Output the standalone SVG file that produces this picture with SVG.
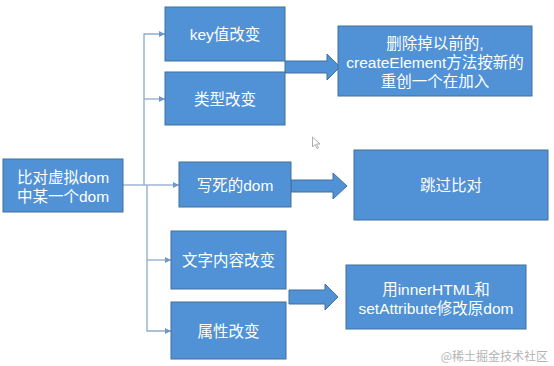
<svg xmlns="http://www.w3.org/2000/svg" width="554" height="366" viewBox="0 0 554 366">
<style>
.box{fill:#5092d5;stroke:#41719c;stroke-width:1}
.t{fill:#ffffff;font-family:"Liberation Sans","Noto Sans CJK SC",sans-serif;font-size:15.5px;text-anchor:middle;dominant-baseline:central}
.c{fill:none;stroke:#8eaacb;stroke-width:1.3}
.ba{fill:#5092d5;stroke:#41719c;stroke-width:1}
</style>
<defs>
<marker id="ah" viewBox="0 0 10 10" refX="10" refY="5" markerWidth="6" markerHeight="6" markerUnits="userSpaceOnUse" orient="auto">
<path d="M0,0 L10,5 L0,10 z" fill="#6f98c6"/>
</marker>
</defs>
<rect width="554" height="366" fill="#ffffff"/>
<g id="connectors">
<path class="c" d="M123,185 H147"/>
<path class="c" d="M144,185 V34 H165" marker-end="url(#ah)"/>
<path class="c" d="M144,99 H165" marker-end="url(#ah)"/>
<path class="c" d="M147,185 H179" marker-end="url(#ah)"/>
<path class="c" d="M147,185 V331 H171" marker-end="url(#ah)"/>
<path class="c" d="M147,260 H171" marker-end="url(#ah)"/>
<path class="ba" d="M285,61 H327 V54 L340,67 L327,80 V73 H285 z"/>
<path class="ba" d="M291,180 H333 V173 L347,186 L333,199 V192 H291 z"/>
<path class="ba" d="M289,290 H325 V284 L338,297 L325,310 V304 H289 z"/>
</g>
<g id="root"><rect class="box" x="3" y="159" width="120" height="53"/><text class="t" x="63" y="177">比对虚拟dom</text><text class="t" x="63" y="196">中某一个dom</text></g>
<g id="key"><rect class="box" x="165" y="7" width="120" height="54"/><text class="t" x="225" y="34">key值改变</text></g>
<g id="type"><rect class="box" x="165" y="72" width="120" height="53"/><text class="t" x="225" y="99">类型改变</text></g>
<g id="static"><rect class="box" x="179" y="162" width="112" height="45"/><text class="t" x="235" y="185">写死的dom</text></g>
<g id="text"><rect class="box" x="171" y="231" width="115" height="58"/><text class="t" x="228.5" y="260">文字内容改变</text></g>
<g id="attr"><rect class="box" x="171" y="302" width="115" height="57"/><text class="t" x="228.5" y="331">属性改变</text></g>
<g id="recreate"><rect class="box" x="338" y="26" width="194" height="70"/><text class="t" x="435" y="43">删除掉以前的,</text><text class="t" x="435" y="62">createElement方法按新的</text><text class="t" x="435" y="81">重创一个在加入</text></g>
<g id="skip"><rect class="box" x="354" y="150" width="194" height="70"/><text class="t" x="451" y="185">跳过比对</text></g>
<g id="modify"><rect class="box" x="346" y="265" width="180" height="64"/><text class="t" x="436" y="289">用innerHTML和</text><text class="t" x="436" y="308">setAttribute修改原dom</text></g>
<path d="M312.5,137 V147 L315,144.5 L317,148.5 L318.5,147.8 L316.5,144 H320 z" fill="#ffffff" stroke="#9a9a9a" stroke-width="0.8"/>
<text x="548" y="355" font-family="'Noto Sans CJK SC',sans-serif" font-size="12" fill="#b4b4b4" text-anchor="end" dominant-baseline="central">@稀土掘金技术社区</text>
</svg>
